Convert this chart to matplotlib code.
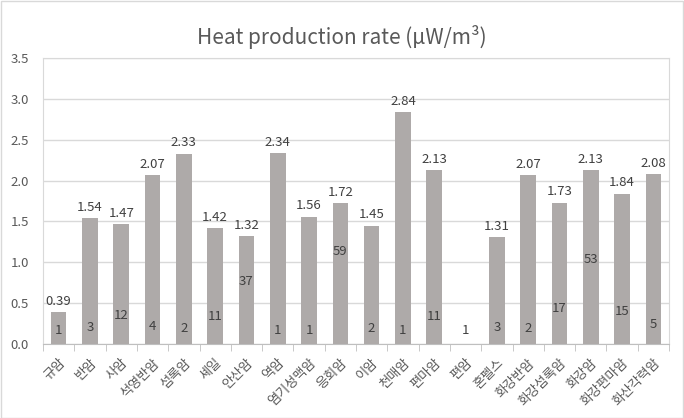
import matplotlib
matplotlib.use("Agg")
import matplotlib.pyplot as plt
import numpy as np
from matplotlib.patches import Rectangle

plt.rcParams['font.family'] = ['Noto Sans CJK KR', 'DejaVu Sans']

rocks = ['규암', '반암', '사암', '석영반암', '섬록암', '셰일', '안산암', '역암', '염기성맥암', '응회암',
         '이암', '천매암', '편마암', '편암', '혼펠스', '화강반암', '화강섬록암', '화강암', '화강편마암', '화산각력암']
heat = [0.39, 1.54, 1.47, 2.07, 2.33, 1.42, 1.32, 2.34, 1.56, 1.72,
        1.45, 2.84, 2.13, np.nan, 1.31, 2.07, 1.73, 2.13, 1.84, 2.08]
counts = [1, 3, 12, 4, 2, 11, 37, 1, 1, 59, 2, 1, 11, 1, 3, 2, 17, 53, 15, 5]
yticks = [0.0, 0.5, 1.0, 1.5, 2.0, 2.5, 3.0, 3.5]

W, H = 684, 418
fig = plt.figure(figsize=(W / 100, H / 100), dpi=100)
fig.patches.append(Rectangle((0.5 / W, 0.5 / H), 1 - 1.5 / W, 1 - 1.5 / H, transform=fig.transFigure,
                             fill=False, edgecolor='#D9D9D9', linewidth=1))
ax = fig.add_axes([43 / W, 1 - 344 / H, (669 - 43) / W, (344 - 58) / H])

x = np.arange(len(rocks))
bar_color = '#AEAAA9'
ax.bar(x, heat, width=0.5, color=bar_color, zorder=3)
ax.set_xlim(-0.5, len(rocks) - 0.5)
ax.set_ylim(0, 3.5)
ax.set_yticks(yticks)
ax.set_yticklabels([f'{v:.1f}' for v in yticks], fontsize=9.5, color='#595959')
ax.grid(axis='y', color='#D9D9D9', linewidth=1, zorder=0)
for s in ax.spines.values():
    s.set_color('#D9D9D9')
ax.spines['bottom'].set_color('#BFBFBF')
ax.tick_params(axis='y', length=0, pad=10)

ax.set_xticks(x)
ax.set_xticklabels(rocks, rotation=45, ha='right', rotation_mode='anchor', fontsize=9.5, color='#595959')
ax.set_xticks(np.arange(-0.5, len(rocks), 1), minor=True)
ax.tick_params(axis='x', which='major', length=0, pad=9)
ax.tick_params(axis='x', which='minor', length=5, color='#BFBFBF')

for xi, v in zip(x, heat):
    if not np.isnan(v):
        ax.annotate(f'{v:.2f}', (xi, v), xytext=(0, 3), textcoords='offset points',
                    ha='center', va='bottom', fontsize=9.5, color='#404040', zorder=5)

ax2 = ax.twinx()
ax2.set_ylim(0, 288 / 1.36)
ax2.axis('off')
for xi, c in zip(x, counts):
    ax2.annotate(str(c), (xi, c), xytext=(0, 12.5), textcoords='offset pixels',
                 ha='center', va='center', fontsize=9.5, color='#404040', zorder=5)

fig.text(0.5, 1 - 37 / H, 'Heat production rate (μW/m³)', ha='center', va='center',
         fontsize=15, color='#595959')

fig.savefig('out.png', dpi=100)
